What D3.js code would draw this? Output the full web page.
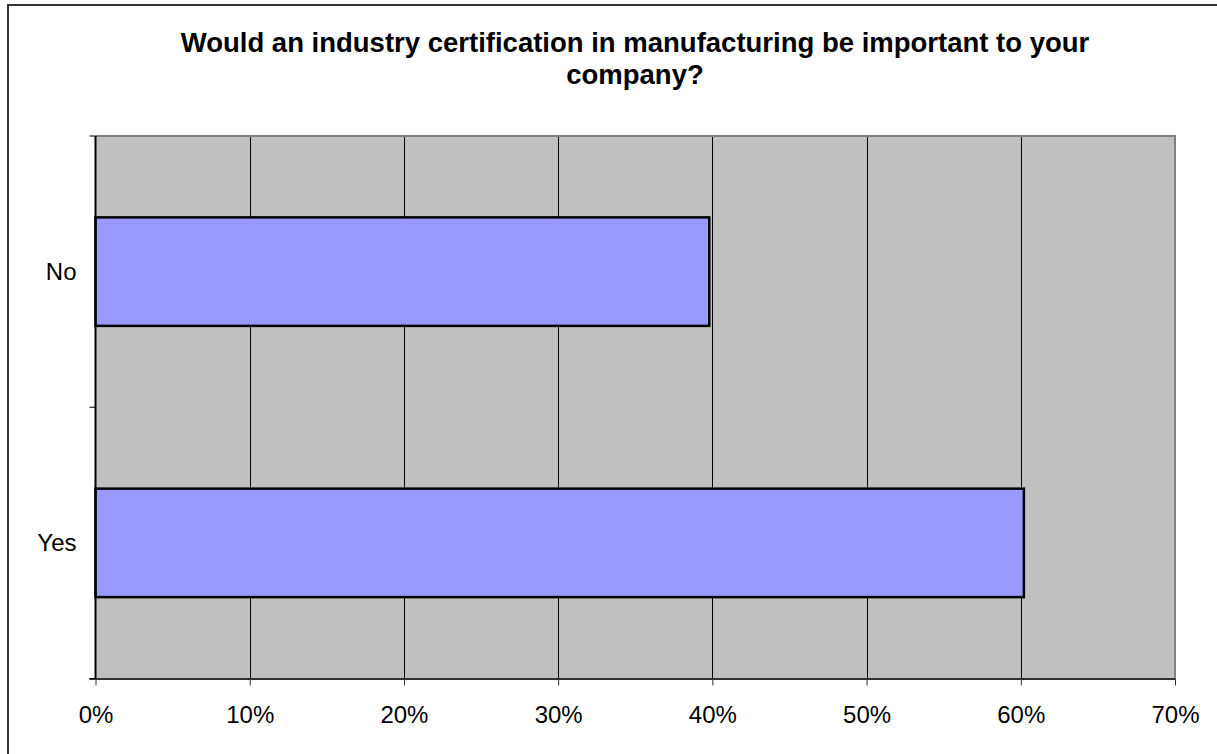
<!DOCTYPE html>
<html>
<head>
<meta charset="utf-8">
<script src="https://cdn.jsdelivr.net/npm/d3@7"></script>
<style>
  html, body { margin: 0; padding: 0; background: #fff; }
  svg { display: block; font-family: "Liberation Sans", Arial, sans-serif; }
</style>
</head>
<body>
<svg id="chart"></svg>
<script>
// data
const categories = ["No", "Yes"];
const values = [0.398, 0.602];
const xTicks = [0, 0.1, 0.2, 0.3, 0.4, 0.5, 0.6, 0.7];
const titleLines = [
  "Would an industry certification in manufacturing be important to your",
  "company?",
];

const width = 1217;
const height = 754;
const plot = { left: 95.5, right: 1175, top: 136, bottom: 678.5 };

const svg = d3.select("svg#chart").attr("width", width).attr("height", height);

// outer chart border
svg
  .append("rect")
  .attr("x", 8)
  .attr("y", 5)
  .attr("width", width)
  .attr("height", height)
  .style("fill", "#fff")
  .style("stroke", "#333")
  .style("stroke-width", 2);

// title
svg
  .append("g")
  .selectAll("text")
  .data(titleLines)
  .join("text")
  .attr("x", 635)
  .attr("y", (d, i) => 52 + i * 32)
  .attr("text-anchor", "middle")
  .style("font-size", "27.5px")
  .style("font-weight", "bold")
  .text((d) => d);

const x = d3.scaleLinear().domain([0, 0.7]).range([plot.left, plot.right]);

const y = d3
  .scaleBand()
  .domain(categories)
  .range([plot.top, plot.bottom])
  .paddingInner(0.6)
  .paddingOuter(0.3);

// plot background
svg
  .append("rect")
  .attr("x", plot.left)
  .attr("y", plot.top)
  .attr("width", plot.right - plot.left)
  .attr("height", plot.bottom - plot.top)
  .style("fill", "#c0c0c0");

// vertical gridlines
svg
  .append("g")
  .selectAll("line")
  .data(xTicks.slice(1, -1))
  .join("line")
  .attr("x1", (d) => Math.round(x(d)) + 0.5)
  .attr("x2", (d) => Math.round(x(d)) + 0.5)
  .attr("y1", plot.top)
  .attr("y2", plot.bottom)
  .style("stroke", "#000")
  .style("stroke-width", 1);

// plot border top/right (gray)
svg
  .append("path")
  .attr("d", `M${plot.left},${plot.top}H${plot.right}V${plot.bottom}`)
  .style("fill", "none")
  .style("stroke", "#808080")
  .style("stroke-width", 2);

// bars
svg
  .append("g")
  .selectAll("rect")
  .data(categories)
  .join("rect")
  .attr("x", x(0))
  .attr("y", (d) => y(d))
  .attr("width", (d, i) => x(values[i]) - x(0))
  .attr("height", y.bandwidth())
  .style("fill", "#9999ff")
  .style("stroke", "#000")
  .style("stroke-width", 2.5);

// x axis
const xAxis = svg
  .append("g")
  .attr("transform", `translate(0,${plot.bottom})`)
  .call(
    d3
      .axisBottom(x)
      .tickValues(xTicks)
      .tickFormat(d3.format(".0%"))
      .tickSize(7)
      .tickPadding(20)
  );
xAxis
  .select(".domain")
  .attr("d", `M${plot.left - 6},0.5H${plot.right}`)
  .style("stroke", "#333")
  .style("stroke-width", 2);
xAxis.selectAll(".tick line").style("stroke", "#333");
xAxis
  .selectAll(".tick text")
  .style("font-size", "24px")
  .style("fill", "#000")
  .attr("dy", "0.71em");
xAxis.attr("font-family", null);

// y axis: ticks at band boundaries, labels centered in bands
const yAxis = svg.append("g").attr("transform", `translate(${plot.left},0)`);
yAxis
  .append("line")
  .attr("y1", plot.top)
  .attr("y2", plot.bottom)
  .style("stroke", "#000")
  .style("stroke-width", 2);
const boundaries = [plot.top, (plot.top + plot.bottom) / 2, plot.bottom];
yAxis
  .selectAll("line.tick")
  .data(boundaries)
  .join("line")
  .attr("class", "tick")
  .attr("x1", -6)
  .attr("x2", 0)
  .attr("y1", (d) => d)
  .attr("y2", (d) => d)
  .style("stroke", "#000");
yAxis
  .selectAll("text")
  .data(categories)
  .join("text")
  .attr("x", -19)
  .attr("y", (d) => y(d) + y.bandwidth() / 2)
  .attr("dy", "0.35em")
  .attr("text-anchor", "end")
  .style("font-size", "24px")
  .text((d) => d);
</script>
</body>
</html>
